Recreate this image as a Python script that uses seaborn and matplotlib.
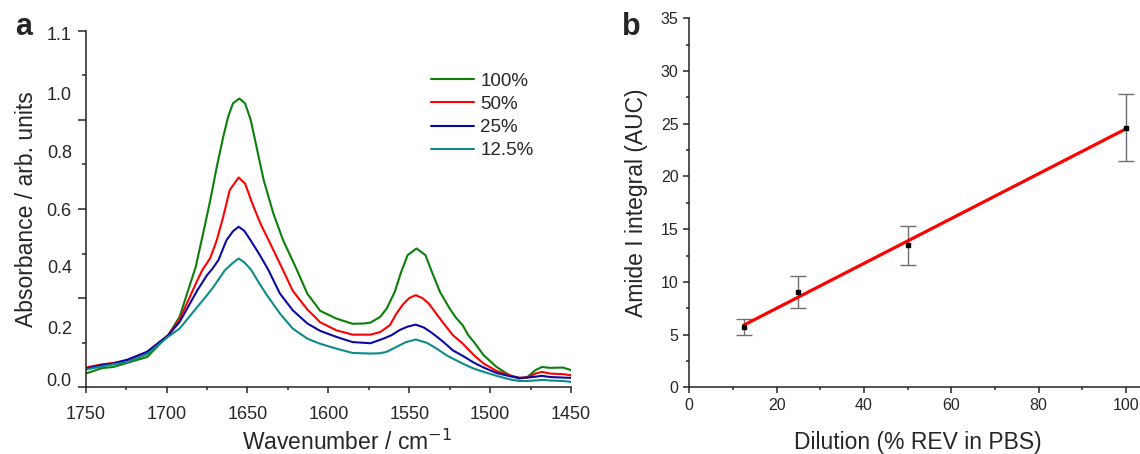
import numpy as np
import pandas as pd
import matplotlib
matplotlib.use("Agg")
import matplotlib.pyplot as plt
import seaborn as sns

# ---- panel a: FTIR spectra ----
wn_100 = [1750, 1740, 1733, 1724, 1712, 1699, 1692, 1682, 1677, 1673, 1669, 1665, 1662,
          1659, 1655, 1651.5, 1648, 1644, 1640, 1634, 1628, 1620, 1613, 1605, 1595, 1585,
          1578, 1574, 1568, 1564, 1559, 1555, 1551, 1545.5, 1540, 1536, 1531, 1525, 1521,
          1517, 1513.5, 1510, 1504, 1496, 1488, 1482, 1477, 1472, 1468, 1463, 1455, 1450]
abs_100 = [0.021, 0.040, 0.044, 0.059, 0.079, 0.155, 0.219, 0.394, 0.522, 0.627, 0.743, 0.848,
           0.918, 0.965, 0.982, 0.965, 0.907, 0.802, 0.697, 0.580, 0.487, 0.390, 0.300, 0.240,
           0.213, 0.195, 0.196, 0.199, 0.219, 0.248, 0.306, 0.376, 0.435, 0.458, 0.435, 0.376,
           0.306, 0.248, 0.215, 0.190, 0.155, 0.131, 0.085, 0.044, 0.015, 0.003, 0.009, 0.033,
           0.044, 0.041, 0.042, 0.033]

wn_50 = [1750, 1740, 1733, 1724, 1712, 1699, 1692, 1681, 1678, 1673, 1669, 1665, 1661, 1655.5,
         1651.5, 1647, 1642, 1636, 1628, 1622, 1613, 1605, 1595, 1585, 1574, 1568, 1562, 1558,
         1554, 1550, 1546, 1542, 1538, 1533, 1529, 1523, 1517, 1510, 1504, 1496, 1488, 1482,
         1477, 1472, 1468, 1463, 1455, 1450]
abs_50 = [0.042, 0.053, 0.058, 0.068, 0.097, 0.155, 0.210, 0.347, 0.382, 0.425, 0.487, 0.569,
          0.662, 0.706, 0.685, 0.615, 0.545, 0.476, 0.382, 0.310, 0.245, 0.200, 0.172, 0.157,
          0.157, 0.166, 0.190, 0.230, 0.262, 0.285, 0.295, 0.285, 0.266, 0.228, 0.198, 0.155,
          0.126, 0.085, 0.056, 0.030, 0.015, 0.006, 0.007, 0.021, 0.027, 0.021, 0.019, 0.015]

wn_25 = [1750, 1740, 1733, 1724, 1712, 1699, 1692, 1681, 1675, 1672, 1668, 1663, 1659, 1655.5,
         1652, 1649.5, 1643, 1637, 1630, 1622, 1613, 1605, 1595, 1585, 1574, 1566, 1561, 1556,
         1551, 1546, 1541, 1537, 1533, 1529, 1523, 1517, 1510, 1504, 1496, 1488, 1482, 1477,
         1472, 1468, 1463, 1455, 1450]
abs_25 = [0.038, 0.051, 0.056, 0.070, 0.097, 0.155, 0.201, 0.312, 0.365, 0.385, 0.417, 0.487,
          0.518, 0.534, 0.520, 0.499, 0.441, 0.382, 0.301, 0.242, 0.196, 0.170, 0.149, 0.131,
          0.127, 0.143, 0.155, 0.173, 0.185, 0.192, 0.182, 0.167, 0.150, 0.132, 0.102, 0.083,
          0.059, 0.042, 0.023, 0.012, 0.006, 0.007, 0.010, 0.013, 0.009, 0.007, 0.006]

wn_12 = [1750, 1740, 1733, 1724, 1712, 1699, 1692, 1681, 1675, 1671, 1667, 1664, 1659, 1655.5,
         1652, 1648, 1642, 1638, 1630, 1622, 1613, 1605, 1595, 1585, 1574, 1568, 1564, 1558,
         1552, 1546, 1539, 1533, 1527, 1523, 1517, 1510, 1504, 1496, 1488, 1482, 1477, 1472,
         1468, 1463, 1455, 1450]
abs_12 = [0.035, 0.046, 0.053, 0.061, 0.089, 0.150, 0.178, 0.254, 0.295, 0.324, 0.357, 0.382,
          0.408, 0.423, 0.410, 0.385, 0.330, 0.295, 0.231, 0.178, 0.143, 0.125, 0.108, 0.093,
          0.091, 0.092, 0.097, 0.114, 0.131, 0.140, 0.128, 0.108, 0.085, 0.073, 0.056, 0.038,
          0.027, 0.013, 0.001, -0.005, -0.005, -0.003, -0.001, -0.003, -0.005, -0.008]

series_names = ["100%", "50%", "25%", "12.5%"]
series_colors = ["#0a7f0a", "#ff0000", "#0a0aa0", "#0f8a8a"]

# y tick labels of panel a, placed where the figure prints them
a_ylabels = ["0.0", "0.2", "0.4", "0.6", "0.8", "1.0", "1.1"]
a_ylabel_pos = [0.0, 0.182, 0.394, 0.595, 0.796, 1.0, 1.21]

# ---- panel b: Amide I integral vs dilution ----
dilution = [12.5, 25, 50, 100]
auc = [5.75, 9.01, 13.47, 24.63]
auc_err = [0.75, 1.52, 1.87, 3.18]

sns.set_style("ticks")
plt.rcParams["font.family"] = ["Liberation Sans", "DejaVu Sans"]
plt.rcParams["axes.linewidth"] = 1.1
plt.rcParams["axes.edgecolor"] = "#222222"

fig = plt.figure(figsize=(11.4, 4.54), dpi=100)
ax_a = fig.add_axes([0.0752, 0.1469, 0.4257, 0.7855])
ax_b = fig.add_axes([0.6046, 0.1469, 0.3954, 0.8128])

spectra = pd.concat([
    pd.DataFrame({"wavenumber": w, "absorbance": a, "dilution": n})
    for w, a, n in zip([wn_100, wn_50, wn_25, wn_12],
                       [abs_100, abs_50, abs_25, abs_12], series_names)
])
sns.lineplot(data=spectra, x="wavenumber", y="absorbance", hue="dilution",
             hue_order=series_names, palette=dict(zip(series_names, series_colors)),
             estimator=None, linewidth=1.5, ax=ax_a, legend=False)

ax_a.set_xlim(1750, 1450)
ax_a.set_ylim(-0.027, 1.219)
ax_a.set_xticks(np.arange(1750, 1449, -50))
ax_a.set_xticks(np.arange(1725, 1450, -50), minor=True)
ax_a.tick_params(axis="x", which="major", length=4.3, width=1.1, labelsize=13, pad=9.5)
ax_a.tick_params(axis="x", which="minor", length=2.3, width=1.1)
ymarks = np.linspace(-0.027, 1.219, 9)
ax_a.set_yticks(ymarks[::2])
ax_a.set_yticks(ymarks[1::2], minor=True)
ax_a.tick_params(axis="y", which="major", length=5.5, width=1.1, labelleft=False)
ax_a.tick_params(axis="y", which="minor", length=3, width=1.1)
sec = ax_a.secondary_yaxis("left")
sec.set_yticks(a_ylabel_pos, labels=a_ylabels)
sec.tick_params(length=0, pad=10, labelsize=13)
sec.spines["left"].set_visible(False)
sns.despine(ax=ax_a)

ax_a.set_xlabel("Wavenumber / cm$^{-1}$", fontsize=16.5)
ax_a.xaxis.set_label_coords(0.538, -0.118)
ax_a.set_ylabel("Absorbance / arb. units", fontsize=16.5)
ax_a.yaxis.set_label_coords(-0.098, 0.5)

handles = [plt.Line2D([], [], color=c, lw=1.5) for c in series_colors]
ax_a.legend(handles, series_names, loc="upper left", bbox_to_anchor=(0.711, 0.883),
            frameon=False, fontsize=13.5, handlelength=2.3, handletextpad=0.35,
            labelspacing=0.33, borderpad=0, borderaxespad=0)

# panel b
ax_b.errorbar(dilution, auc, yerr=auc_err, fmt="none", ecolor="#6e6e6e",
              elinewidth=1.0, capsize=5.5, capthick=1.0, zorder=2)
sns.regplot(x=dilution, y=auc, ci=None, scatter=False, color="#ff0000",
            line_kws=dict(lw=2.3, zorder=3), ax=ax_b)
ax_b.plot(dilution, auc, ls="none", marker="s", ms=3.2, color="black", zorder=4)

ax_b.set_xlim(0, 103.2)
ax_b.set_ylim(0, 35)
ax_b.set_xticks(np.arange(0, 101, 20))
ax_b.set_xticks(np.arange(10, 101, 20), minor=True)
ax_b.set_yticks(np.arange(0, 36, 5))
ax_b.set_yticks(np.arange(2.5, 35, 5), minor=True)
ax_b.tick_params(which="major", length=4.3, width=1.1, labelsize=11.5, pad=3.5)
ax_b.tick_params(which="minor", length=2.2, width=1.1)
sns.despine(ax=ax_b)
ax_b.set_xlabel("Dilution (% REV in PBS)", fontsize=16.5)
ax_b.xaxis.set_label_coords(0.5074, -0.118)
ax_b.set_ylabel("Amide I integral (AUC)", fontsize=16.5)
ax_b.yaxis.set_label_coords(-0.0916, 0.5)

fig.text(0.013, 0.923, "a", fontsize=22, fontweight="bold", va="baseline")
fig.text(0.5456, 0.923, "b", fontsize=22, fontweight="bold", va="baseline")

fig.savefig("out.png", dpi=100)
